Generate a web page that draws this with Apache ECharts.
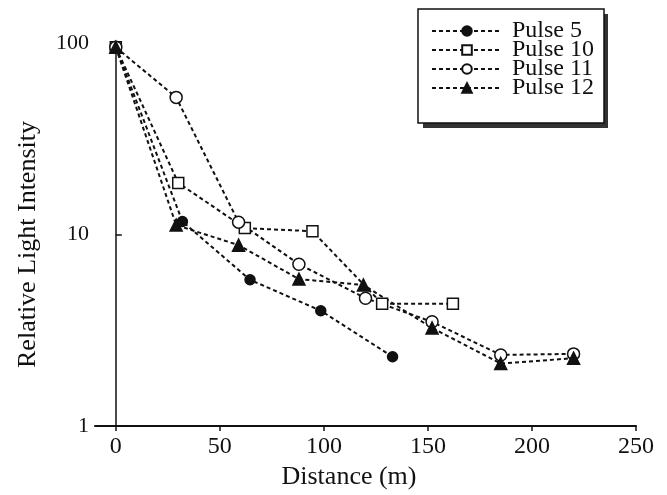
<!DOCTYPE html>
<html>
<head>
<meta charset="utf-8">
<script src="https://cdn.jsdelivr.net/npm/echarts@6/dist/echarts.min.js"></script>
<style>
html,body{margin:0;padding:0;background:#fff;}
#chart{width:667px;height:495px;}
</style>
</head>
<body>
<div id="chart"></div>
<script>
var seriesNames = ['Pulse 5', 'Pulse 10', 'Pulse 11', 'Pulse 12'];
var pulse5 = [[0, 95], [32, 11.7], [64.5, 5.8], [98.5, 4.0], [133, 2.3]];
var pulse10 = [[0, 95], [30, 18.6], [62, 10.8], [94.5, 10.4], [128, 4.35], [162, 4.35]];
var pulse11 = [[0, 95], [29, 52], [59, 11.6], [88, 7.0], [120, 4.65], [152, 3.5], [185, 2.35], [220, 2.38]];
var pulse12 = [[0, 95], [29, 11.2], [59, 8.8], [88, 5.85], [119, 5.45], [152, 3.25], [185, 2.12], [220, 2.26]];
var xTicks = [0, 50, 100, 150, 200, 250];

var font = '"Liberation Serif", "DejaVu Serif", serif';
var ink = '#111';
var dash = [4, 3];

function mk(name, data, symbol, size, fill) {
  return {
    name: name,
    type: 'line',
    data: data,
    symbol: symbol,
    symbolSize: size,
    showAllSymbol: true,
    lineStyle: {color: ink, width: 2, type: dash},
    itemStyle: {color: fill, borderColor: ink, borderWidth: 1.5},
    z: 3
  };
}

var chart = echarts.init(document.getElementById('chart'), null, {renderer: 'canvas'});
chart.setOption({
  backgroundColor: '#fff',
  animation: false,
  grid: {left: 95, right: 31, top: 43, bottom: 69, containLabel: false},
  graphic: [{
    type: 'rect',
    z: 0,
    shape: {x: 423, y: 14, width: 185, height: 114},
    style: {fill: '#333'}
  }],
  legend: {
    orient: 'vertical',
    left: 418,
    top: 9,
    z: 10,
    data: seriesNames,
    itemWidth: 70,
    itemHeight: 12,
    itemGap: -5,
    padding: [10, 10, 23, 13],
    backgroundColor: '#fff',
    borderColor: ink,
    borderWidth: 1.5,
    borderRadius: 0,
    textStyle: {fontFamily: font, fontSize: 24, color: ink, padding: [0, 0, 0, 5]}
  },
  xAxis: {
    type: 'value',
    min: -10,
    max: 250,
    name: 'Distance (m)',
    nameLocation: 'middle',
    nameGap: 38,
    nameTextStyle: {fontFamily: font, fontSize: 26, color: ink, padding: [0, 33, 0, 0]},
    axisLine: {show: true, lineStyle: {color: ink, width: 2}},
    axisTick: {show: true, inside: false, length: 5, customValues: xTicks, lineStyle: {color: ink, width: 1.5}},
    axisLabel: {customValues: xTicks, fontFamily: font, fontSize: 24, color: ink, margin: 9},
    splitLine: {show: false}
  },
  yAxis: {
    type: 'log',
    logBase: 10,
    min: 1,
    max: 100,
    name: 'Relative Light Intensity',
    nameLocation: 'middle',
    nameGap: 54,
    nameTextStyle: {fontFamily: font, fontSize: 26, color: ink, padding: [0, 20, 0, 0]},
    axisLine: {show: true, lineStyle: {color: ink, width: 1.5}},
    axisTick: {show: true, inside: true, length: 6, lineStyle: {color: ink, width: 1.5}},
    minorTick: {show: false},
    axisLabel: {fontFamily: font, fontSize: 22, color: ink, margin: 6},
    splitLine: {show: false}
  },
  series: [
    mk('Pulse 5', pulse5, 'circle', 10, ink),
    mk('Pulse 10', pulse10, 'rect', 11, '#fff'),
    mk('Pulse 11', pulse11, 'circle', 12, '#fff'),
    mk('Pulse 12', pulse12, 'triangle', 12, ink)
  ]
});
</script>
</body>
</html>
